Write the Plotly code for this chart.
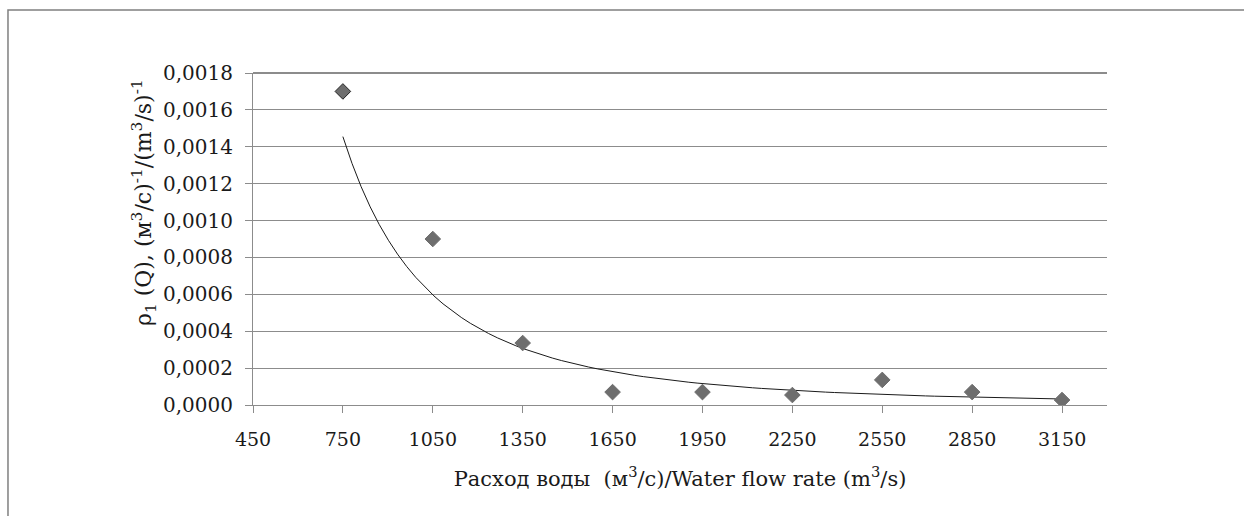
import numpy as np
import plotly.graph_objects as go

# Data
flow = [750, 1050, 1350, 1650, 1950, 2250, 2550, 2850, 3150]
rho = [0.0017, 0.0009, 0.000336, 0.00007, 0.00007, 0.000054, 0.000136, 0.00007, 0.000027]
x_ticks = [450, 750, 1050, 1350, 1650, 1950, 2250, 2550, 2850, 3150]
y_ticks = [0.0, 0.0002, 0.0004, 0.0006, 0.0008, 0.0010, 0.0012, 0.0014, 0.0016, 0.0018]

# Power trendline (least squares in log-log space, as in the spreadsheet trendline)
b, ln_a = np.polyfit(np.log(flow), np.log(rho), 1)
trend_x = np.linspace(flow[0], flow[-1], 80)
trend_y = np.exp(ln_a) * trend_x ** b

FONT = "DejaVu Serif"
GREY = "#6e6e6e"

fig = go.Figure()
fig.add_trace(go.Scatter(
    x=trend_x, y=trend_y, mode="lines",
    line=dict(color="#1a1a1a", width=1), showlegend=False, hoverinfo="skip"))
fig.add_trace(go.Scatter(
    x=flow, y=rho, mode="markers",
    marker=dict(symbol="diamond", size=12, color=GREY,
                line=dict(color=["#222222"] + [GREY] * (len(flow) - 1), width=1)),
    showlegend=False))

fig.update_layout(
    width=1244, height=516,
    margin=dict(l=253, r=137, t=73, b=111),
    paper_bgcolor="white", plot_bgcolor="white",
    font=dict(family=FONT, size=19, color="#1a1a1a"),
    xaxis=dict(
        range=[450, 3300], tickvals=x_ticks, ticktext=[str(v) for v in x_ticks],
        showgrid=False, zeroline=False, showline=True, linecolor="#8c8c8c", linewidth=1.2,
        ticks="outside", ticklen=7, tickcolor="#8c8c8c", tickwidth=1.2,
        ticklabelstandoff=10, tickfont=dict(size=19),
        title=dict(text="Расход воды  (м<sup>3</sup>/с)/Water flow rate (m<sup>3</sup>/s)",
                   font=dict(family=FONT, size=21), standoff=22),
    ),
    yaxis=dict(
        range=[0, 0.0018], tickvals=y_ticks,
        ticktext=[f"{v:.4f}".replace(".", ",") for v in y_ticks],
        showgrid=True, gridcolor="#8c8c8c", gridwidth=1.2, zeroline=False,
        showline=True, linecolor="#8c8c8c", linewidth=1.2,
        ticks="outside", ticklen=7, tickcolor="#8c8c8c", tickwidth=1.2,
        ticklabelstandoff=8, tickfont=dict(size=20),
    ),
    annotations=[dict(
        text="ρ<sub>1</sub> (Q), (м<sup>3</sup>/с)<sup>-1</sup>/(m<sup>3</sup>/s)<sup>-1</sup>",
        textangle=-90, xref="paper", yref="paper", x=-0.127, y=0.61,
        xanchor="center", yanchor="middle", showarrow=False,
        font=dict(family=FONT, size=22))],
    shapes=[
        dict(type="line", xref="paper", yref="paper", x0=0, x1=1, y0=1, y1=1,
             line=dict(color="#1a1a1a", width=1.2)),
        dict(type="rect", xref="paper", yref="paper", x0=-0.2869, x1=1.17,
             y0=-0.35, y1=1.1898, line=dict(color="#808080", width=1.5)),
    ],
)

fig.write_html("out.html")
